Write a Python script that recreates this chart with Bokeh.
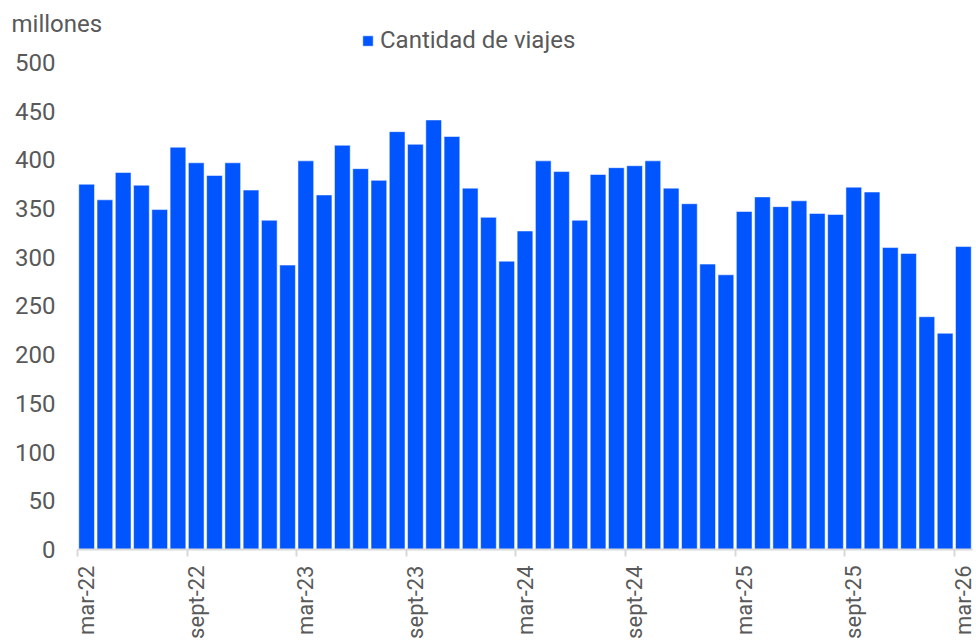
import math
from bokeh.plotting import figure
from bokeh.models import FixedTicker, Legend, ColumnDataSource, Range1d
from bokeh.embed import file_html
from bokeh.resources import INLINE

# monthly trips (millions), mar-22 .. mar-26
meses = ["mar-22", "abr-22", "may-22", "jun-22", "jul-22", "ago-22", "sept-22", "oct-22", "nov-22", "dic-22",
         "ene-23", "feb-23", "mar-23", "abr-23", "may-23", "jun-23", "jul-23", "ago-23", "sept-23", "oct-23",
         "nov-23", "dic-23", "ene-24", "feb-24", "mar-24", "abr-24", "may-24", "jun-24", "jul-24", "ago-24",
         "sept-24", "oct-24", "nov-24", "dic-24", "ene-25", "feb-25", "mar-25", "abr-25", "may-25", "jun-25",
         "jul-25", "ago-25", "sept-25", "oct-25", "nov-25", "dic-25", "ene-26", "feb-26", "mar-26"]
viajes = [375, 359, 387, 374, 349, 413, 397, 384, 397, 369,
          338, 292, 399, 364, 415, 391, 379, 429, 416, 441,
          424, 371, 341, 296, 327, 399, 388, 338, 385, 392,
          394, 399, 371, 355, 293, 282, 347, 362, 352, 358,
          345, 344, 372, 367, 310, 304, 239, 222, 311]
tick_every = 6
y_ticks = [0, 50, 100, 150, 200, 250, 300, 350, 400, 450, 500]

TXT = "#595959"
FONT = "Roboto"

x = [i + 0.5 for i in range(len(meses))]
src = ColumnDataSource(dict(x=x, y=viajes, mes=meses))

p = figure(width=976, height=643, output_backend="svg", toolbar_location=None,
           x_range=Range1d(0, len(meses)), y_range=Range1d(0, 539),
           min_border_left=77, min_border_right=4, min_border_top=24, min_border_bottom=94)
p.background_fill_color = "white"
p.border_fill_color = "white"
p.outline_line_color = None
p.grid.visible = False

r = p.vbar(x="x", top="y", width=0.86, source=src, fill_color="#0055FF",
           line_color="white", line_alpha=0.5, line_width=1)

# x axis: ticks at category boundaries, labels at category centres
label_pos = [i + 0.5 for i in range(0, len(meses), tick_every)]
bound_pos = [float(i) for i in range(0, len(meses), tick_every)]
xa = p.xaxis[0]
xa.ticker = FixedTicker(ticks=label_pos, minor_ticks=bound_pos)
xa.major_label_overrides = {pos: meses[int(pos - 0.5)] for pos in label_pos}
xa.major_tick_line_color = None
xa.major_tick_in = 0
xa.major_tick_out = 0
xa.minor_tick_line_color = "#d9d9d9"
xa.minor_tick_line_width = 2
xa.minor_tick_in = 0
xa.minor_tick_out = 7
xa.axis_line_color = "#d9d9d9"
xa.axis_line_width = 2
xa.major_label_orientation = math.pi / 2
xa.major_label_standoff = 9
xa.major_label_text_font = FONT
xa.major_label_text_font_size = "22px"
xa.major_label_text_color = TXT

ya = p.yaxis[0]
ya.ticker = FixedTicker(ticks=y_ticks)
ya.axis_line_color = None
ya.major_tick_line_color = None
ya.minor_tick_line_color = None
ya.major_tick_in = 0
ya.major_tick_out = 0
ya.major_label_standoff = 22
ya.major_label_text_font = FONT
ya.major_label_text_font_size = "24px"
ya.major_label_text_color = TXT

p.title.text = "millones"
p.title.align = "left"
p.title.offset = -66
p.title.standoff = -26
p.title.text_font = FONT
p.title.text_font_size = "24px"
p.title.text_font_style = "normal"
p.title.text_color = TXT

legend = Legend(items=[("Cantidad de viajes", [r])], location=(284, 495),
                orientation="horizontal", glyph_width=13, glyph_height=13,
                label_standoff=6, padding=0, margin=0, spacing=0,
                border_line_color=None, background_fill_alpha=0,
                label_text_font=FONT, label_text_font_size="24px", label_text_color=TXT)
p.add_layout(legend, "center")

open("out.html", "w").write(file_html(p, INLINE))
